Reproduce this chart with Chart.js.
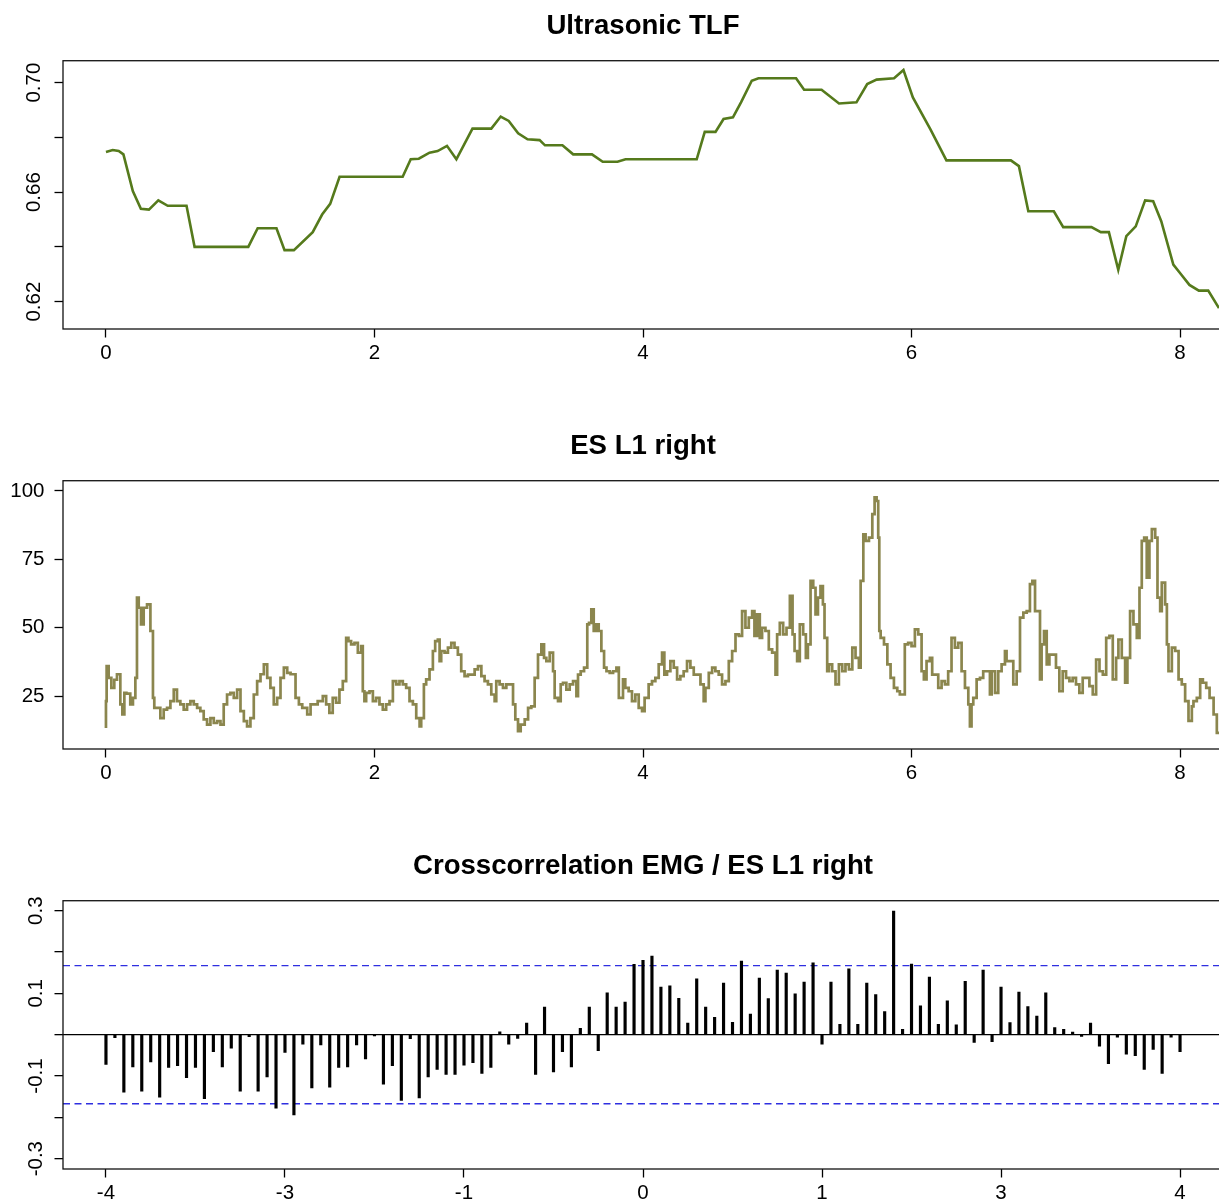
<!DOCTYPE html>
<html>
<head>
<meta charset="utf-8">
<title>Ultrasonic TLF / ES L1 right</title>
<script src="https://cdn.jsdelivr.net/npm/chart.js@4.4.1/dist/chart.umd.min.js"></script>
<style>
  html, body { margin: 0; padding: 0; background: #fff; overflow: hidden; }
  .panel { width: 1226px; height: 420px; }
  canvas { display: block; }
</style>
</head>
<body>
<div class="panel"><canvas id="tlf" width="1226" height="420"></canvas></div>
<div class="panel"><canvas id="es" width="1226" height="420"></canvas></div>
<div class="panel"><canvas id="ccf" width="1226" height="420"></canvas></div>
<script>
// ---- panel 1 : Ultrasonic TLF (time in s) ----
var tlfTime = [0, 0.05, 0.095, 0.13, 0.2, 0.26, 0.32, 0.39, 0.46, 0.6, 0.66, 1.06, 1.13, 1.27, 1.33, 1.40,
  1.54, 1.61, 1.67, 1.74, 2.21, 2.27, 2.33, 2.41, 2.47, 2.54, 2.61, 2.73, 2.87, 2.94, 3.0, 3.07, 3.14,
  3.23, 3.27, 3.40, 3.48, 3.62, 3.70, 3.81, 3.87, 4.40, 4.46, 4.54, 4.60, 4.67, 4.73, 4.81, 4.86, 5.14,
  5.20, 5.33, 5.46, 5.59, 5.67, 5.74, 5.87, 5.94, 6.01, 6.14, 6.26, 6.74, 6.80, 6.87, 7.06, 7.13, 7.34,
  7.41, 7.47, 7.54, 7.60, 7.67, 7.74, 7.80, 7.86, 7.95, 8.01, 8.07, 8.14, 8.21, 8.29];
var tlfValue = [0.6747, 0.6754, 0.675, 0.6738, 0.6604, 0.6539, 0.6536, 0.657, 0.655, 0.655, 0.640, 0.640,
  0.6468, 0.6468, 0.6388, 0.6388, 0.6454, 0.6518, 0.6557, 0.6656, 0.6656, 0.672, 0.6722, 0.6744, 0.675,
  0.6769, 0.672, 0.6832, 0.6832, 0.6876, 0.686, 0.6815, 0.6793, 0.679, 0.6771, 0.6771, 0.6738, 0.6738,
  0.6711, 0.6711, 0.672, 0.672, 0.682, 0.682, 0.6867, 0.6873, 0.6928, 0.7007, 0.7016, 0.7016, 0.6974,
  0.6974, 0.6924, 0.6928, 0.6995, 0.7011, 0.7016, 0.7046, 0.6946, 0.683, 0.6716, 0.6716, 0.6695, 0.653,
  0.653, 0.6472, 0.6472, 0.6454, 0.6454, 0.6316, 0.6439, 0.6475, 0.657, 0.6567, 0.6494, 0.6335, 0.6298,
  0.6261, 0.624, 0.624, 0.6176];
var tlfTicks = [0.62, 0.64, 0.66, 0.68, 0.70];
var tlfTickLabels = ['0.62', '', '0.66', '', '0.70'];

// ---- panel 2 : ES L1 right EMG ----
var esTime = [0, 0.005, 0.020, 0.040, 0.062, 0.082, 0.107, 0.122, 0.137, 0.152, 0.181, 0.201, 0.219, 0.231,
  0.244, 0.261, 0.281, 0.306, 0.331, 0.350, 0.360, 0.380, 0.405, 0.430, 0.455, 0.480, 0.505, 0.529, 0.554,
  0.579, 0.604, 0.629, 0.654, 0.679, 0.703, 0.728, 0.753, 0.778, 0.803, 0.828, 0.853, 0.877, 0.902, 0.927,
  0.952, 0.977, 1.002, 1.027, 1.051, 1.076, 1.101, 1.126, 1.151, 1.176, 1.201, 1.225, 1.250, 1.275, 1.300,
  1.325, 1.350, 1.375, 1.412, 1.437, 1.462, 1.499, 1.524,
  1.577, 1.615, 1.640, 1.664, 1.689, 1.714, 1.739, 1.764, 1.789, 1.806, 1.826, 1.851, 1.876, 1.901, 1.913,
  1.925, 1.938, 1.963, 1.988, 2.012, 2.037, 2.062, 2.087, 2.112, 2.137, 2.162, 2.186, 2.211, 2.236, 2.261,
  2.286, 2.311, 2.336, 2.348, 2.368, 2.385, 2.410, 2.435, 2.452, 2.472, 2.485, 2.497, 2.522, 2.547, 2.572,
  2.596, 2.621, 2.646, 2.671, 2.696, 2.721, 2.746, 2.771, 2.796, 2.820, 2.845, 2.870, 2.895, 2.907, 2.932,
  2.957, 2.982, 3.007, 3.032, 3.049, 3.069, 3.089, 3.119, 3.144, 3.168, 3.193, 3.218, 3.243, 3.263, 3.280,
  3.305, 3.330, 3.342, 3.367, 3.387, 3.404, 3.429, 3.454, 3.479, 3.504, 3.516, 3.536, 3.561, 3.585, 3.598,
  3.615, 3.633, 3.652, 3.670, 3.690, 3.710, 3.728, 3.752, 3.777, 3.802, 3.820,
  3.851, 3.868, 3.893, 3.918, 3.943, 3.968, 3.993, 4.012, 4.042, 4.067, 4.092, 4.117, 4.142, 4.159, 4.179,
  4.204, 4.229, 4.254, 4.278, 4.303, 4.328, 4.353, 4.378, 4.403, 4.428, 4.452, 4.465, 4.490, 4.515, 4.539,
  4.564, 4.589, 4.614, 4.639, 4.664, 4.689, 4.714, 4.738, 4.763, 4.788, 4.813, 4.830, 4.850, 4.870, 4.887,
  4.912, 4.937, 4.962, 4.987, 4.999, 5.019, 5.044, 5.069, 5.094, 5.114, 5.129, 5.148, 5.168, 5.193, 5.213,
  5.228, 5.248, 5.268, 5.285, 5.303, 5.322, 5.340, 5.352, 5.372, 5.385, 5.409, 5.434, 5.459, 5.484, 5.508,
  5.534, 5.559, 5.583, 5.608, 5.621, 5.641, 5.658, 5.683, 5.708, 5.725, 5.740, 5.752, 5.760, 5.770, 5.795,
  5.820, 5.844, 5.869, 5.894,
  5.913, 5.950, 5.975, 6.000, 6.025, 6.050, 6.075, 6.092, 6.112, 6.137, 6.154, 6.174, 6.199, 6.224, 6.249,
  6.273, 6.298, 6.323, 6.348, 6.373, 6.398, 6.423, 6.435, 6.447, 6.460, 6.485, 6.510, 6.534, 6.559, 6.584,
  6.597, 6.622, 6.646, 6.671, 6.696, 6.708, 6.733, 6.758, 6.783, 6.808, 6.833, 6.858, 6.882, 6.900, 6.920,
  6.932, 6.957, 6.969, 6.987, 7.007, 7.027, 7.052, 7.076, 7.101, 7.126, 7.151, 7.176, 7.200, 7.225, 7.250,
  7.275, 7.300, 7.325, 7.350, 7.375, 7.400, 7.425, 7.450, 7.474, 7.499, 7.524, 7.541, 7.566, 7.591, 7.608,
  7.628, 7.653, 7.678, 7.698, 7.715, 7.733, 7.752, 7.772, 7.790, 7.815, 7.832, 7.852, 7.864, 7.889, 7.902,
  7.914, 7.939, 7.964, 7.989, 8.013, 8.038, 8.063, 8.088, 8.100, 8.125, 8.150, 8.170, 8.195, 8.220, 8.250,
  8.274, 8.294];
var esValue = [13.4, 23.2, 36, 31.7, 28, 31, 33, 22, 18.3, 26.2, 25.9, 22, 24.4, 31.7,
  61, 57.3, 51.2, 57.3, 58.5, 48.8, 24.4, 20.7, 20.7, 17, 20.1, 20.7, 23.2, 27.4, 23.2,
  22, 20.1, 22, 23.2, 22, 20.7, 19.5, 16.5, 14.6, 17, 15.2, 15.9, 14.6, 22, 25.6,
  26.2, 24.4, 27.4, 19.5, 15.9, 14, 17, 25.6, 30.5, 33, 36.6, 31.7, 28, 22, 24.4,
  31.7, 35.4, 33.5, 33, 24.4, 22, 20.7, 18.3,
  22, 23.2, 25, 22, 18.9, 24.4, 22.6, 27.4, 30.5, 46.3, 45.1, 43.9, 44.5, 40.9, 43.3,
  26.8, 23.2, 26.2, 26.8, 23.2, 24.4, 22, 20.1, 22, 23.2, 30.5, 29.3, 30.5, 29.3, 28,
  23.2, 22, 17, 14, 17, 29.3, 31.1, 34.8, 41.5, 45.1, 45.7, 37.8, 41.5, 40.9, 42.7,
  44.5, 42.7, 40.2, 34.1, 32.3, 32.9, 32.9, 34.8, 36, 32.3, 30.5, 29.3, 25.6, 23.2, 30.5,
  29.3, 28, 29.3, 29.3, 22, 16.5, 12.2, 14.6, 16.5, 20.7, 21.3, 31.7, 40.2, 43.9, 39,
  37.8, 40.9, 34.1, 24.4, 23.2, 29.3, 29.9, 27.4, 29.3, 30.5, 25, 32.9, 34.1, 35.4, 51.2,
  51.8, 56.7, 48.8, 51.2, 48.8, 41.5, 35.4, 34.1, 33.5, 34.1, 35.4,
  24.4, 31.1, 28, 26.8, 23.2, 25.6, 20.7, 19.5, 24.4, 29.3, 30.5, 31.7, 36.6, 40.9, 32.9,
  34.1, 37.8, 35.4, 31.1, 32.3, 34.1, 37.8, 35.4, 32.9, 32.9, 29.3, 23.2, 28, 33.5, 35.4,
  34.1, 32.9, 29.3, 30.5, 37.8, 41.5, 47.6, 47, 56.1, 50, 53.7, 56.1, 47, 54.9, 46.3,
  50, 48.8, 42.1, 40.9, 32.9, 47.6, 51.8, 47.6, 50, 61.6, 47.6, 41.5, 37.8, 51.2, 47.6,
  39, 43.9, 67.1, 64.6, 54.9, 61, 65.2, 58.5, 46.3, 34.1, 36.6, 34.1, 29.3, 36.6, 34.1,
  36.6, 34.8, 42.7, 39, 35.4, 67.1, 84.1, 81.7, 82.9, 91.5, 97.6, 96.3, 82.9, 48.8, 46.3,
  43.9, 36.6, 31.7, 28,
  26.8, 25.6, 43.9, 44.5, 43.3, 49.4, 47.6, 34.1, 31.1, 37.8, 39, 32.9, 32.9, 28, 30.5,
  29.3, 34.1, 46.3, 42.7, 44.5, 34.1, 28, 22, 14, 22, 24.4, 31.1, 31.7, 34.1, 34.1,
  25.6, 34.1, 26.2, 34.1, 36.6, 41.5, 37.8, 37.8, 29.3, 34.1, 53.7, 55.5, 56.1, 65.9, 67.1,
  56.1, 56.1, 31.1, 43.9, 48.8, 36.6, 40.2, 40.2, 35.4, 26.8, 34.1, 31.7, 30.5, 31.7, 29.3,
  26.2, 31.7, 31.7, 28.7, 25.6, 38.4, 34.1, 32.9, 46.3, 47, 31.1, 39, 45.7, 39, 29.9,
  39, 56.1, 51.2, 46.3, 64.6, 81.7, 82.9, 68.3, 81.7, 86, 82.9, 61, 56.1, 66.5, 58.5,
  43.9, 34.1, 42.7, 41.5, 31.1, 29.3, 23.2, 16, 21.3, 23.2, 24.4, 31.1, 29.9, 28, 24.4,
  18.3, 11.6];
var esTicks = [25, 50, 75, 100];
var esTickLabels = ['25', '50', '75', '100'];
var timeTicks = [0, 2, 4, 6, 8];

// ---- panel 3 : cross-correlation, lags -60..60 (step 1/15 s) ----
var ccValue = [-0.072, -0.007, -0.139, -0.078, -0.137, -0.066, -0.151, -0.079, -0.075, -0.104,
  -0.079, -0.155, -0.041, -0.078, -0.033, -0.137, -0.005, -0.137, -0.102, -0.178,
  -0.043, -0.194, -0.023, -0.129, -0.025, -0.127, -0.079, -0.078, -0.025, -0.059,
  -0.003, -0.120, -0.075, -0.159, -0.010, -0.153, -0.102, -0.084, -0.096, -0.096,
  -0.074, -0.068, -0.094, -0.079, 0.007, -0.023, -0.009, 0.028, -0.096, 0.067,
  -0.090, -0.041, -0.078, 0.015, 0.067, -0.039, 0.101, 0.067, 0.079, 0.170,
  0.180,
  0.190, 0.115, 0.118, 0.088, 0.028, 0.135, 0.067, 0.042, 0.125, 0.030,
  0.178, 0.050, 0.137, 0.087, 0.156, 0.149, 0.099, 0.127, 0.174, -0.023,
  0.127, 0.025, 0.159, 0.025, 0.125, 0.097, 0.056, 0.299, 0.013, 0.171,
  0.070, 0.139, 0.025, 0.082, 0.024, 0.129, -0.019, 0.156, -0.017, 0.115,
  0.029, 0.103, 0.068, 0.045, 0.101, 0.017, 0.013, 0.006, -0.004, 0.028,
  -0.028, -0.070, -0.006, -0.047, -0.051, -0.084, -0.036, -0.094, -0.006, -0.041];
var ccLag = ccValue.map(function (v, i) { return (i - 60) / 15; });
var ciLevel = 0.167;
var ccYTicks = [-0.3, -0.2, -0.1, 0, 0.1, 0.2, 0.3];
var ccYTickLabels = ['-0.3', '', '-0.1', '', '0.1', '', '0.3'];
var ccXTicks = [-4, -8 / 3, -4 / 3, 0, 4 / 3, 8 / 3, 4];
var ccXTickLabels = ['-4', '-3', '-1', '0', '1', '3', '4'];

// ---- common look ----
Chart.defaults.font.family = "'Liberation Sans', Arial, sans-serif";
Chart.defaults.color = '#000';

var boxPlugin = {
  id: 'box',
  afterDraw: function (chart) {
    var a = chart.chartArea, ctx = chart.ctx;
    ctx.save();
    ctx.strokeStyle = '#111';
    ctx.lineWidth = 1.3;
    ctx.strokeRect(a.left, a.top, a.right - a.left, a.bottom - a.top);
    ctx.restore();
  }
};

function pairs(xs, ys) {
  return xs.map(function (x, i) { return {x: x, y: ys[i]}; });
}

function xAxis(min, max, ticks, labels) {
  return {
    type: 'linear', min: min, max: max, offset: false,
    afterBuildTicks: function (s) { s.ticks = ticks.map(function (v) { return {value: v}; }); },
    afterFit: function (s) { s.height = 91; },
    grid: { drawOnChartArea: false, offset: false, tickLength: 8.5, tickWidth: 1.3, tickColor: '#000' },
    border: { display: false },
    ticks: { autoSkip: false, maxRotation: 0, padding: 4, color: '#000', font: { size: 20.5 },
      callback: function (v, i) { return labels[i]; } }
  };
}

function yAxis(min, max, ticks, labels, rotated) {
  return {
    type: 'linear', min: min, max: max,
    afterBuildTicks: function (s) { s.ticks = ticks.map(function (v) { return {value: v}; }); },
    afterFit: function (s) { s.width = 63; },
    grid: { drawOnChartArea: false, tickLength: 8.5, tickWidth: 1.3, tickColor: '#000' },
    border: { display: false },
    ticks: { autoSkip: false, color: '#000', font: { size: 20.5 },
      minRotation: rotated ? 90 : 0, maxRotation: rotated ? 90 : 0,
      crossAlign: rotated ? 'center' : 'near', padding: rotated ? 0 : 10,
      callback: function (v, i) { return labels[i]; } }
  };
}

function baseOptions(title, scales) {
  return {
    responsive: false, animation: false, devicePixelRatio: 1,
    layout: { padding: { left: 0, right: 3, top: 0, bottom: 0 } },
    plugins: {
      legend: { display: false },
      tooltip: { enabled: false },
      title: { display: true, text: title, fullSize: false, color: '#000',
        font: { size: 27.6, weight: 'bold' }, padding: { top: 10, bottom: 17.6 } }
    },
    scales: scales
  };
}

var timeLabels = timeTicks.map(String);

new Chart(document.getElementById('tlf'), {
  type: 'line',
  data: { datasets: [{
    data: pairs(tlfTime, tlfValue),
    borderColor: '#557a1c', borderWidth: 2.6, pointRadius: 0, tension: 0
  }] },
  options: baseOptions('Ultrasonic TLF', {
    x: xAxis(-0.32, 8.32, timeTicks, timeLabels),
    y: yAxis(0.610, 0.708, tlfTicks, tlfTickLabels, true)
  }),
  plugins: [boxPlugin]
});

new Chart(document.getElementById('es'), {
  type: 'line',
  data: { datasets: [{
    data: pairs(esTime, esValue),
    borderColor: '#8b864e', borderWidth: 2.7, pointRadius: 0, tension: 0, stepped: 'after'
  }] },
  options: baseOptions('ES L1 right', {
    x: xAxis(-0.32, 8.32, timeTicks, timeLabels),
    y: yAxis(5.7, 103.7, esTicks, esTickLabels, false)
  }),
  plugins: [boxPlugin]
});

var ccXMin = -4.32, ccXMax = 4.32;
var ccY = yAxis(-0.325, 0.324, ccYTicks, ccYTickLabels, true);
// zero reference line drawn as the 0 grid line only
ccY.grid.drawOnChartArea = true;
ccY.grid.lineWidth = 1.3;
ccY.grid.color = function (c) { return c.tick && c.tick.value === 0 ? '#000' : 'rgba(0,0,0,0)'; };

new Chart(document.getElementById('ccf'), {
  type: 'line',
  data: { datasets: [
    { type: 'bar', data: pairs(ccLag, ccValue), backgroundColor: '#000', barThickness: 2.5 },
    { type: 'line', data: [{x: ccXMin, y: ciLevel}, {x: ccXMax, y: ciLevel}],
      borderColor: '#2f2fe0', borderWidth: 1.4, borderDash: [7, 4.5], pointRadius: 0 },
    { type: 'line', data: [{x: ccXMin, y: -ciLevel}, {x: ccXMax, y: -ciLevel}],
      borderColor: '#2f2fe0', borderWidth: 1.4, borderDash: [7, 4.5], pointRadius: 0 }
  ] },
  options: baseOptions('Crosscorrelation EMG / ES L1 right', {
    x: xAxis(ccXMin, ccXMax, ccXTicks, ccXTickLabels),
    y: ccY
  }),
  plugins: [boxPlugin]
});
</script>
</body>
</html>
